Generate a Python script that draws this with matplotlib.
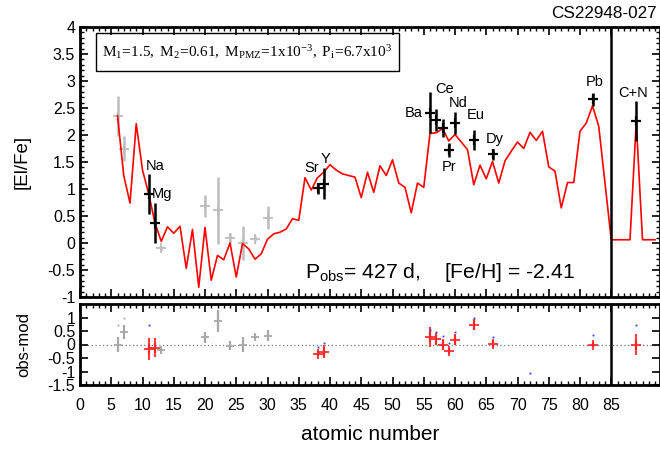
import matplotlib
matplotlib.use('Agg')
import matplotlib.pyplot as plt
from matplotlib.ticker import MultipleLocator, FixedLocator
from matplotlib.patches import Rectangle

plt.rcParams['font.family'] = ['Liberation Sans', 'DejaVu Sans']
plt.rcParams['mathtext.fontset'] = 'custom'
plt.rcParams['mathtext.rm'] = 'Liberation Serif'
plt.rcParams['mathtext.it'] = 'Liberation Serif:italic'
plt.rcParams['mathtext.sf'] = 'Liberation Sans'

# ---------------- data ----------------
model_z = list(range(6, 93))
model_val = [2.36, 1.25, 0.74, 2.21, 1.35, 0.91, 0.37, 0.03, 0.30, 0.18,
             0.31, -0.47, 0.25, -0.82, 0.29, -0.69, -0.23, -0.31, 0.00, -0.63,
             -0.01, -0.11, -0.30, -0.20, 0.07, 0.17, 0.20, 0.26, 0.45, 0.42,
             1.21, 0.98, 1.21, 1.31, 1.45, 1.35, 1.28, 1.25, 1.22, 0.84,
             1.31, 0.94, 1.43, 1.25, 1.54, 1.11, 1.03, 0.56, 1.11, 1.03,
             2.03, 2.04, 2.12, 1.89, 2.01, 1.87, 1.73, 1.08, 1.44, 1.19,
             1.51, 1.11, 1.52, 1.70, 1.87, 1.75, 2.05, 1.90, 2.07, 1.41,
             1.33, 0.65, 1.12, 1.12, 2.07, 2.22, 2.54, 2.16, 1.11, 0.06,
             0.06, 0.06, 0.06, 2.24, 0.06, 0.06, 0.06]

obs_z = [11, 12, 38, 39, 56, 57, 58, 59, 60, 63, 66, 82, 89]
obs_val = [0.90, 0.37, 1.01, 1.10, 2.41, 2.28, 2.13, 1.73, 2.22, 1.91, 1.64, 2.66, 2.26]
obs_err = [0.37, 0.37, 0.11, 0.29, 0.38, 0.20, 0.17, 0.13, 0.20, 0.19, 0.10, 0.12, 0.37]

light_z = [6, 7, 13, 20, 22, 24, 26, 28, 30]
light_val = [2.36, 1.75, -0.10, 0.69, 0.61, 0.09, 0.00, 0.08, 0.47]
light_err = [0.37, 0.24, 0.05, 0.20, 0.62, 0.10, 0.32, 0.05, 0.21]

res_val = [-0.16, -0.12, -0.34, -0.26, 0.27, 0.21, 0.00, -0.24, 0.18, 0.73, 0.02, 0.00, 0.00]
res_err = [0.40, 0.35, 0.10, 0.25, 0.38, 0.22, 0.19, 0.12, 0.21, 0.20, 0.10, 0.10, 0.38]

light_res_val = [0.00, 0.47, -0.22, 0.27, 0.88, -0.04, 0.00, 0.29, 0.33]
light_res_err = [0.28, 0.27, 0.12, 0.20, 0.41, 0.18, 0.29, 0.10, 0.20]

blue_z = [11, 38, 39, 56, 57, 58, 59, 60, 63, 66, 72, 82, 89]
blue_val = [0.73, -0.10, 0.05, 0.55, 0.47, 0.30, 0.05, 0.47, 0.97, 0.29, -1.05, 0.34, 0.73]
grey_dot_z = [6, 7]
grey_dot_val = [0.72, 1.00]

labels = ['Na', 'Mg', 'Sr', 'Y', 'Ba', 'Ce', 'Nd', 'Pr', 'Eu', 'Dy', 'Pb', 'C+N']
label_z = [11, 12, 38, 39, 56, 58, 60, 59, 63, 66, 82, 89]
x_ticks = list(range(0, 90, 5))
top_yticks = [-1, -0.5, 0, 0.5, 1, 1.5, 2, 2.5, 3, 3.5, 4]
bot_yticks = [-1.5, -1, -0.5, 0, 0.5, 1]

# ---------------- layout ----------------
W, H = 660, 449
fig = plt.figure(figsize=(W / 100, H / 100), dpi=100)

def fx(px):
    return px / W

def fy(py):
    return 1 - py / H

ax = fig.add_axes([fx(80), fy(297), fx(660 - 80), fy(27) - fy(297)])
ax2 = fig.add_axes([fx(80), fy(385), fx(660 - 80), fy(304) - fy(385)])

XMAX = 92.8
for a in (ax, ax2):
    a.set_xlim(0, XMAX)
    for s in a.spines.values():
        s.set_linewidth(2)
    a.xaxis.set_major_locator(FixedLocator(x_ticks))
    a.xaxis.set_minor_locator(MultipleLocator(1))
    a.tick_params(which='both', direction='in', top=True, right=True,
                  labelsize=11.5, colors='black')
    a.tick_params(which='major', length=6, width=1.2)
    a.tick_params(which='minor', length=3, width=1.0)
    a.axvline(85, color='black', lw=1.8, zorder=5)

# top panel
ax.set_ylim(-1, 4)
ax.set_yticks(top_yticks)
ax.set_yticklabels([f'{v:g}' for v in top_yticks])
ax.yaxis.set_minor_locator(MultipleLocator(0.1))
ax.tick_params(labelbottom=False)
ax.set_ylabel('[El/Fe]', fontsize=13.5, labelpad=12)

ax.plot(model_z, model_val, color='red', lw=1.2, zorder=3)
ax.errorbar(light_z, light_val, yerr=light_err, fmt='+', color='#bdbdbd',
            ms=7, mew=1.3, elinewidth=1.8, capsize=0, zorder=2)
ax.errorbar(obs_z, obs_val, yerr=obs_err, fmt='+', color='black',
            ms=7, mew=1.6, elinewidth=1.8, capsize=0, zorder=4)

label_offsets = {'Na': (1.0, 0.53), 'Mg': (1.15, 0.545), 'Sr': (-0.9, 0.37),
                 'Y': (0.3, 0.45), 'Ba': (-2.65, 0.005), 'Ce': (0.4, 0.715),
                 'Nd': (0.56, 0.38), 'Pr': (0.12, -0.32), 'Eu': (0.4, 0.455),
                 'Dy': (0.4, 0.293), 'Pb': (0.4, 0.32), 'C+N': (-0.5, 0.52)}
for lab, z in zip(labels, label_z):
    v = obs_val[obs_z.index(z)]
    dx, dy = label_offsets[lab]
    ax.text(z + dx, v + dy, lab, fontsize=10.5, ha='center', va='center', zorder=6)

fig.text(fx(305), fy(272), r'P$_{\mathsf{obs}}$= 427 d,    [Fe/H] = -2.41',
         fontsize=15.2, ha='left', va='center')

fig.text(fx(657), fy(14), 'CS22948-027', fontsize=12.3, ha='right', va='center')

box = Rectangle((fx(96), fy(71)), fx(399 - 96), fy(33) - fy(71), transform=fig.transFigure,
                fill=False, lw=1.0, edgecolor='black', zorder=7)
fig.patches.append(box)
fig.text(fx(247.5), fy(52),
         r'$\mathrm{M_1\!=\!1.5,\ M_2\!=\!0.61,\ M_{PMZ}\!=\!1x10^{-3},\ P_i\!=\!6.7x10^3}$',
         fontsize=11, ha='center', va='center')

# bottom panel
ax2.set_ylim(-1.5, 1.5)
ax2.set_yticks(bot_yticks)
ax2.set_yticklabels([f'{v:g}' for v in bot_yticks])
ax2.set_ylabel('obs-mod', fontsize=12, labelpad=12)
ax2.set_xticklabels([str(t) for t in x_ticks])
ax2.tick_params(axis='x', pad=9)
ax2.set_xlabel('atomic number', fontsize=15, labelpad=9)
ax2.axhline(0, color='#777777', lw=0.9, ls=(0, (1, 2)), zorder=1)

ax2.errorbar(light_z, light_res_val, yerr=light_res_err, fmt='+', color='#a8a8a8',
             ms=6, mew=1.3, elinewidth=1.6, capsize=0, zorder=2)
ax2.errorbar(obs_z, res_val, yerr=res_err, fmt='+', color='#ff2020',
             ms=7, mew=1.4, elinewidth=1.6, capsize=0, alpha=0.85, zorder=3)
ax2.plot(blue_z, blue_val, 's', color='#3333ff', ms=1.3, mew=0, zorder=4)
ax2.plot(grey_dot_z, grey_dot_val, 's', color='#aaaaaa', ms=1.3, mew=0, zorder=4)

fig.savefig('out.png', dpi=100)
